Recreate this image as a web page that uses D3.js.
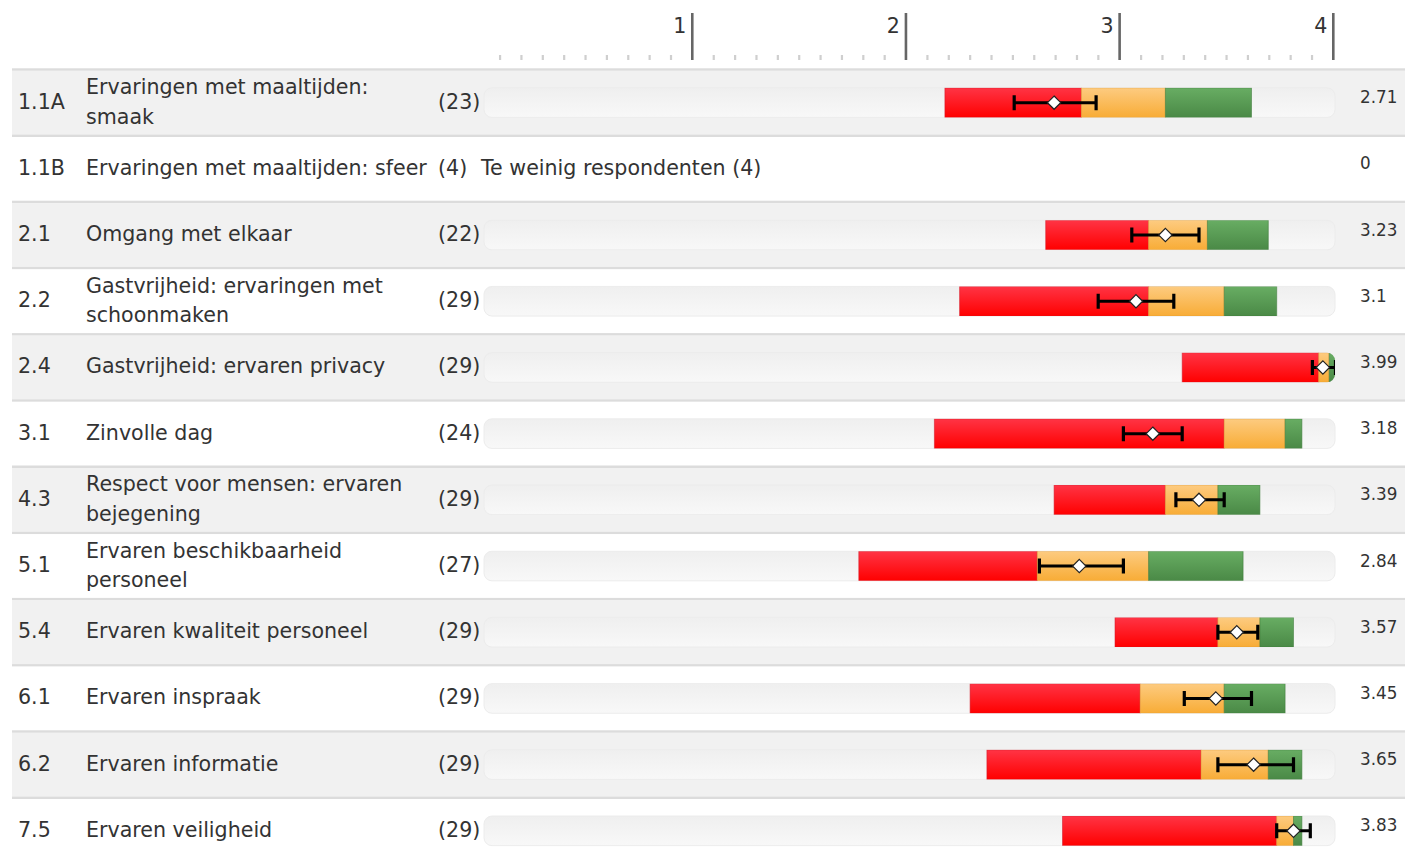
<!DOCTYPE html>
<html>
<head>
<meta charset="utf-8">
<script src="https://cdn.jsdelivr.net/npm/d3@7"></script>
<style>
  html, body { margin: 0; padding: 0; background: #fff; }
  svg { display: block; font-family: "DejaVu Sans", sans-serif; }
</style>
</head>
<body>
<svg id="chart" width="1405" height="856"></svg>
<script>
  // rows
  const codes = ["1.1A", "1.1B", "2.1", "2.2", "2.4", "3.1", "4.3", "5.1", "5.4", "6.1", "6.2", "7.5"];
  const labels = [
    "Ervaringen met maaltijden:\nsmaak",
    "Ervaringen met maaltijden: sfeer",
    "Omgang met elkaar",
    "Gastvrijheid: ervaringen met\nschoonmaken",
    "Gastvrijheid: ervaren privacy",
    "Zinvolle dag",
    "Respect voor mensen: ervaren\nbejegening",
    "Ervaren beschikbaarheid\npersoneel",
    "Ervaren kwaliteit personeel",
    "Ervaren inspraak",
    "Ervaren informatie",
    "Ervaren veiligheid"
  ];
  const counts = [23, 4, 22, 29, 29, 24, 29, 27, 29, 29, 29, 29];
  const scoreLabels = ["2.71", "0", "3.23", "3.1", "3.99", "3.18", "3.39", "2.84", "3.57", "3.45", "3.65", "3.83"];

  // segment boundaries (null = te weinig respondenten)
  const redStart    = [2.19, null, 2.67, 2.26, 3.32, 2.14, 2.71, 1.78, 3.00, 2.31, 2.39, 2.75];
  const redEnd      = [2.84, null, 3.16, 3.16, 3.97, 3.52, 3.24, 2.63, 3.49, 3.12, 3.41, 3.77];
  const orangeEnd   = [3.24, null, 3.44, 3.52, 4.02, 3.81, 3.49, 3.16, 3.69, 3.52, 3.73, 3.85];
  const greenEnd    = [3.65, null, 3.73, 3.77, 4.06, 3.89, 3.69, 3.61, 3.85, 3.81, 3.89, 3.89];
  const means       = [2.71, null, 3.24, 3.10, 3.99, 3.18, 3.40, 2.83, 3.58, 3.48, 3.66, 3.85];
  const errLow      = [2.52, null, 3.08, 2.92, 3.94, 3.04, 3.29, 2.64, 3.49, 3.33, 3.49, 3.77];
  const errHigh     = [2.91, null, 3.40, 3.28, 4.05, 3.32, 3.52, 3.04, 3.68, 3.65, 3.85, 3.93];

  const majorTicks = [1, 2, 3, 4];
  const minorTicks = d3.range(1, 40).filter(i => i % 10 !== 0).map(i => i / 10);

  const rows = codes.map((c, i) => ({
    code: c, label: labels[i], n: counts[i], score: scoreLabels[i],
    segs: redStart[i] == null ? null : [
      { from: redStart[i], to: redEnd[i], key: "red" },
      { from: redEnd[i], to: orangeEnd[i], key: "orange" },
      { from: orangeEnd[i], to: greenEnd[i], key: "green" }
    ],
    mean: means[i], lo: errLow[i], hi: errHigh[i], i
  }));

  const svg = d3.select("#chart");
  const W = 1405;
  const fs = 20.6;

  const axisX = d3.scaleLinear().domain([0, 4]).range([478.6, 1333.3]);
  const x = d3.scaleLinear().domain([0, 4]).range([485, 1325]);
  const y = d3.scaleBand().domain(codes).range([68.3, 68.3 + codes.length * 66.2]).paddingInner(0);

  const trackX0 = 484, trackX1 = 1335, barH = 29.6, sepH = 2.5;
  const center = d => y(d.code) + sepH + (y.step() - sepH) / 2;

  // gradients
  const defs = svg.append("defs");
  const grads = {
    red: ["#ff3445", "#ff0000"],
    orange: ["#fdcb80", "#f8ac36"],
    green: ["#68ad63", "#4a8946"],
    track: ["#efefef", "#f8f8f8"]
  };
  Object.entries(grads).forEach(([k, c]) => {
    const g = defs.append("linearGradient").attr("id", "g-" + k)
      .attr("x1", 0).attr("y1", 0).attr("x2", 0).attr("y2", 1);
    g.append("stop").attr("offset", "0%").attr("stop-color", c[0]);
    g.append("stop").attr("offset", "100%").attr("stop-color", c[1]);
  });
  const borders = { red: "#d41a28", orange: "#e29a32", green: "#3e7b3b" };

  // top axis
  svg.append("g").selectAll("rect")
    .data(minorTicks)
    .join("rect")
    .attr("x", d => axisX(d) - 1)
    .attr("y", 55)
    .attr("width", 2.2)
    .attr("height", 5)
    .attr("fill", "#cfcfcf");

  const major = svg.append("g").selectAll("g")
    .data(majorTicks)
    .join("g");
  major.append("line")
    .attr("x1", d => axisX(d)).attr("x2", d => axisX(d))
    .attr("y1", 13).attr("y2", 60)
    .attr("stroke", "#666").attr("stroke-width", 2.6);
  major.append("text")
    .attr("x", d => axisX(d) - 6)
    .attr("y", 33)
    .attr("text-anchor", "end")
    .attr("font-size", fs)
    .attr("fill", "#333")
    .text(d => d);

  // rows
  const row = svg.append("g").selectAll("g")
    .data(rows)
    .join("g");

  row.append("rect")
    .attr("x", 12).attr("width", W - 12)
    .attr("y", d => y(d.code)).attr("height", sepH)
    .attr("fill", "#dcdcdc");

  row.append("rect")
    .attr("x", 12).attr("width", W - 12)
    .attr("y", d => y(d.code) + sepH).attr("height", y.step() - sepH)
    .attr("fill", d => d.i % 2 === 0 ? "#f1f1f1" : "#ffffff");

  row.append("text")
    .attr("x", 18)
    .attr("y", d => center(d) + 6)
    .attr("font-size", fs).attr("fill", "#333")
    .text(d => d.code);

  row.append("text")
    .attr("font-size", fs).attr("fill", "#333")
    .each(function (d) {
      const lines = d.label.split("\n");
      const base = lines.length > 1 ? center(d) - 8.5 : center(d) + 6;
      d3.select(this).selectAll("tspan")
        .data(lines)
        .join("tspan")
        .attr("x", 86)
        .attr("y", (l, k) => base + k * 29.5)
        .text(l => l);
    });

  row.append("text")
    .attr("x", 438)
    .attr("y", d => center(d) + 6)
    .attr("font-size", fs).attr("fill", "#333")
    .text(d => "(" + d.n + ")");

  row.append("text")
    .attr("x", 1360)
    .attr("y", d => center(d) + 0.5)
    .attr("font-size", 16.8).attr("fill", "#333")
    .text(d => d.score);

  // rows without enough respondents
  row.filter(d => !d.segs).append("text")
    .attr("x", 481)
    .attr("y", d => center(d) + 6)
    .attr("font-size", fs).attr("fill", "#333")
    .text(d => "Te weinig respondenten (" + d.n + ")");

  const bars = row.filter(d => d.segs);

  bars.each(function (d) {
    defs.append("clipPath").attr("id", "clip-" + d.i)
      .append("rect")
      .attr("x", trackX0).attr("width", trackX1 - trackX0)
      .attr("y", center(d) - barH / 2).attr("height", barH)
      .attr("rx", 8);
  });

  bars.append("rect")
    .attr("x", trackX0).attr("width", trackX1 - trackX0)
    .attr("y", d => center(d) - barH / 2).attr("height", barH)
    .attr("rx", 8)
    .attr("fill", "url(#g-track)")
    .attr("stroke", "#ececec").attr("stroke-width", 1);

  const inner = bars.append("g").attr("clip-path", d => "url(#clip-" + d.i + ")");

  inner.selectAll("rect")
    .data(d => d.segs.map(s => ({ ...s, c: center(d) })))
    .join("rect")
    .attr("x", s => x(s.from))
    .attr("width", s => x(s.to) - x(s.from))
    .attr("y", s => s.c - barH / 2)
    .attr("height", barH)
    .attr("fill", s => "url(#g-" + s.key + ")")
    .attr("stroke", s => borders[s.key])
    .attr("stroke-opacity", 0.55)
    .attr("stroke-width", 1);

  // error bars
  inner.append("line")
    .attr("x1", d => x(d.lo)).attr("x2", d => x(d.hi))
    .attr("y1", d => center(d)).attr("y2", d => center(d))
    .attr("stroke", "#000").attr("stroke-width", 3);
  inner.selectAll("line.cap")
    .data(d => [d.lo, d.hi].map(v => ({ v, c: center(d) })))
    .join("line")
    .attr("class", "cap")
    .attr("x1", e => x(e.v)).attr("x2", e => x(e.v))
    .attr("y1", e => e.c - 7.5).attr("y2", e => e.c + 7.5)
    .attr("stroke", "#000").attr("stroke-width", 3.2);

  // mean diamond
  bars.append("path")
    .attr("d", d3.symbol(d3.symbolDiamond2, 112)())
    .attr("transform", d => `translate(${x(d.mean)},${center(d)})`)
    .attr("fill", "#fff")
    .attr("stroke", "#222")
    .attr("stroke-width", 1.2);
</script>
</body>
</html>
